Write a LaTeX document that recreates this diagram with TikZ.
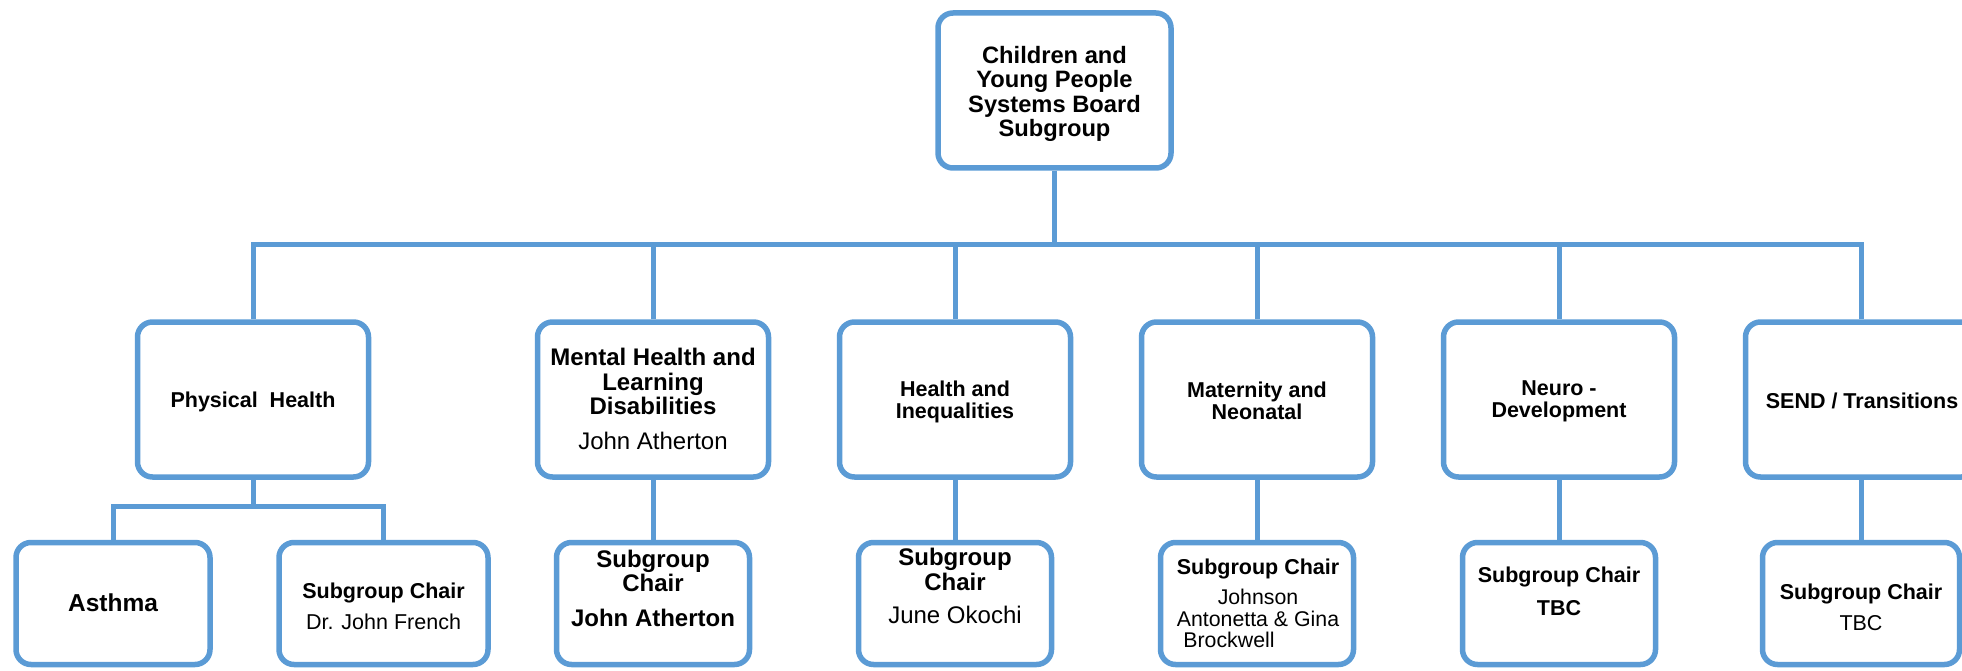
\documentclass[tikz,border=0pt]{standalone}
\usepackage{fontspec}
\setmainfont{Liberation Sans}
\definecolor{bl}{RGB}{91,155,213}
\begin{document}
\begin{tikzpicture}[x=1pt,y=-1pt,
  box/.style={draw=bl, line width=5.5pt, rounded corners=15pt, fill=white, inner sep=0pt},
  lvtwo/.style={box, minimum width=231pt, minimum height=155pt},
  lvthree/.style={box, minimum width=193pt, minimum height=122pt},
  conn/.style={draw=bl, line width=5pt},
  txt/.style={align=center, inner sep=0pt, text=black},
  bB/.style={txt, font=\fontsize{21.5}{22}\selectfont\bfseries},
]
\useasboundingbox (0,0) rectangle (1962,671);

% boxes
\node[box, minimum width=233pt, minimum height=155pt] (top) at (1054.5,90.5) {};

\node[lvtwo] (ph)   at (253,399.5)  {};
\node[lvtwo] (mh)   at (653,399.5)  {};
\node[lvtwo] (hi)   at (955,399.5)  {};
\node[lvtwo] (mn)   at (1257,399.5) {};
\node[lvtwo] (nd)   at (1559,399.5) {};
\node[lvtwo] (send) at (1861,399.5) {};

\node[lvthree, minimum width=194pt] (asthma) at (113,603.5)   {};
\node[lvthree, minimum width=209pt] (phsc)   at (383.5,603.5) {};
\node[lvthree] (mhsc)   at (653,603.5)  {};
\node[lvthree] (hisc)   at (955,603.5)  {};
\node[lvthree] (mnsc)   at (1257,603.5) {};
\node[lvthree] (ndsc)   at (1559,603.5) {};
\node[lvthree, minimum width=197pt] (sendsc) at (1861,603.5) {};

% connectors
\coordinate (bar) at (0,244);
\coordinate (phbar) at (0,506);
\draw[conn] (top.south) -- (top.south |- bar);
\draw[conn] (ph.north) -- (ph.north |- bar) -- (send.north |- bar) -- (send.north);
\foreach \n in {mh,hi,mn,nd} { \draw[conn] (\n.north) -- (\n.north |- bar); }
\draw[conn] (ph.south) -- (ph.south |- phbar);
\draw[conn] (asthma.north) -- (asthma.north |- phbar) -- (phsc.north |- phbar) -- (phsc.north);
\draw[conn] (mh.south) -- (mhsc.north);
\draw[conn] (hi.south) -- (hisc.north);
\draw[conn] (mn.south) -- (mnsc.north);
\draw[conn] (nd.south) -- (ndsc.north);
\draw[conn] (send.south) -- (sendsc.north);

% texts
\node[txt, font=\fontsize{23.7}{24.3}\selectfont\bfseries] (ttop) at (1054.5,94)
  {Children and\\Young People\\Systems Board\\Subgroup};

\node[bB] (tph) at (253,402) {Physical\ \ Health};
\node[txt, font=\fontsize{24}{24.5}\selectfont] (tmh) at (653,399)
  {\textbf{Mental Health and}\\\textbf{Learning}\\\textbf{Disabilities}\\[10.5pt]John Atherton};
\node[bB] (thi) at (955,401.5) {Health and\\Inequalities};
\node[bB] (tmn) at (1257,401) {Maternity and\\Neonatal};
\node[bB] (tnd) at (1559,401.5) {Neuro -\\Development};
\node[bB] (tsend) at (1862,400.5) {SEND / Transitions};

\node[txt, font=\fontsize{24.5}{25}\selectfont\bfseries] (tasthma) at (113,603) {Asthma};
\node[txt, font=\fontsize{21.5}{24.4}\selectfont] (tphsc) at (383.5,606)
  {\textbf{Subgroup Chair}\\[6.6pt]Dr. John French};
\node[txt, font=\fontsize{24}{24}\selectfont] (tmhsc) at (653,588)
  {\textbf{Subgroup}\\\textbf{Chair}\\[11pt]\textbf{John Atherton}};
\node[txt, font=\fontsize{24}{25}\selectfont] (thisc) at (955,586)
  {\textbf{Subgroup}\\\textbf{Chair}\\[8.7pt]June Okochi};
\node[txt, font=\fontsize{21.3}{21.7}\selectfont] (tmnsc) at (1258,603.5)
  {\textbf{\fontsize{21.5}{21.7}\selectfont Subgroup Chair}\\[8.3pt]Johnson\\Antonetta \& Gina\\Brockwell\hspace*{58pt}};
\node[txt, font=\fontsize{21.5}{24.4}\selectfont\bfseries] (tndsc) at (1559,591.3)
  {Subgroup Chair\\[8.6pt]TBC};
\node[txt, font=\fontsize{21.5}{24.4}\selectfont] (tsendsc) at (1861,607.8)
  {\textbf{Subgroup Chair}\\[6.6pt]TBC};
\end{tikzpicture}
\end{document}
